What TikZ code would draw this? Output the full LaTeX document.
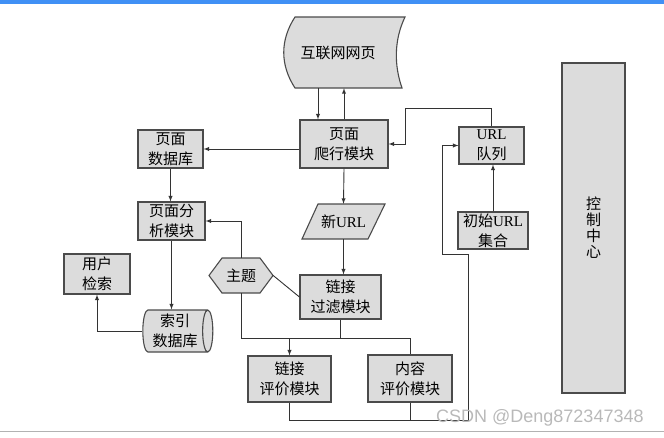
\documentclass[tikz,border=0pt]{standalone}
\usepackage{fontspec}
\setmainfont{Liberation Serif}
\newfontfamily\cjk{Noto Sans CJK SC}
\newfontfamily\wmfont{Liberation Sans}
\usepackage{tikz}
\usetikzlibrary{shapes.geometric}
\definecolor{boxgray}{RGB}{220,220,220}
\definecolor{edgegray}{RGB}{75,75,75}
\definecolor{topbar}{RGB}{64,144,245}

\begin{document}
\begin{tikzpicture}[x=1pt,y=-1pt,>=latex,
        modbox/.style={draw=edgegray, fill=boxgray, line width=1.1pt, align=center,
            inner sep=0pt, font=\cjk\fontsize{15}{20}\selectfont},
        plain/.style={align=center, inner sep=0pt, font=\cjk\fontsize{15}{20}\selectfont},
        link/.style={draw=black!80, line width=0.9pt}]
                    \useasboundingbox (0,0) rectangle (664,437);
                    \fill[topbar] (0,0) rectangle (664,4);
                    \draw[gray!60, line width=1pt] (0,431.5) -- (664,431.5);

                    % shapes drawn by hand
                    \filldraw[draw=edgegray, fill=boxgray, line width=1.1pt]
                        (295,17) -- (405,17) .. controls (394,40) and (394,65) .. (402,88)
                        -- (295,88) .. controls (280,65) and (280,40) .. (295,17) -- cycle;
                    \filldraw[draw=edgegray, fill=boxgray, line width=1.1pt]
                        (209,275.5) -- (222,258) -- (260,258) -- (273,275.5) -- (260,293) -- (222,293) -- cycle;
                    \filldraw[draw=edgegray, fill=boxgray, line width=1.1pt]
                        (318,204) -- (385,204) -- (368,239) -- (302,239) -- cycle;

                    \node[plain, minimum width=110, minimum height=71] (web) at (338,52.5) {互联网网页};
                    \node[plain, minimum width=64, minimum height=35] (topic) at (241,275.5) {主题};
                    \node[plain, minimum width=66, minimum height=35] (newurl) at (343.5,221.5) {新{\rmfamily URL}};

                    \node[modbox, minimum width=88, minimum height=48] (crawl) at (344,144) {页面\\爬行模块};
                    \node[modbox, minimum width=65, minimum height=38] (pagedb) at (170.5,149) {页面\\数据库};
                    \node[modbox, minimum width=67, minimum height=38] (analyze) at (171.5,221) {页面分\\析模块};
                    \node[modbox, minimum width=66, minimum height=40] (search) at (97,274) {用户\\检索};
                    \node[modbox, cylinder, shape aspect=0.3, minimum width=42, minimum height=70] (idx) at (175,331) {索引\\数据库};
                    \node[modbox, minimum width=81, minimum height=44] (filter) at (340.5,297) {链接\\过滤模块};
                    \node[modbox, minimum width=83, minimum height=46] (linkeval) at (289.5,379) {链接\\评价模块};
                    \node[modbox, minimum width=84, minimum height=47] (conteval) at (410,378.5) {内容\\评价模块};
                    \node[modbox, minimum width=65, minimum height=37] (queue) at (491.5,145.5) {{\rmfamily URL}\\队列};
                    \node[modbox, minimum width=70, minimum height=37] (seed) at (493,230.5) {初始{\rmfamily URL}\\集合};
                    \node[modbox, minimum width=63, minimum height=330, font=\cjk\fontsize{15}{16}\selectfont] (control) at (593.5,228) {控\\制\\中\\心};

                    \coordinate (evbus) at (0,338);
                    \coordinate (fbbus) at (0,420);
                    \coordinate (fbright) at (468,254);
                    \coordinate (fbleft) at (442,254);
                    \coordinate (qtop) at (405,108);

                    \draw[link,->] ([xshift=-26pt]crawl.north |- web.south) -- ([xshift=-26pt]crawl.north);
                    \draw[link,->] (crawl.north) -- (crawl.north |- web.south);
                    \draw[link,->] (crawl.west |- pagedb.east) -- (pagedb.east);
                    \draw[link,->] (pagedb.south) -- (pagedb.south |- analyze.north);
                    \draw[link,->] (topic.north) |- (analyze.east);
                    \draw[link,->] (analyze.south) -- (analyze.south |- idx.north);
                    \draw[link,->] (idx.west) -| (search.south);
                    \draw[link,->] (crawl.south) -- (newurl.north);
                    \draw[link,->] (newurl.south) -- (newurl.south |- filter.north);
                    \draw[link] (topic.east) -- (filter.west);
                    \draw[link] (topic.south) |- (conteval.north |- evbus) -- (conteval.north);
                    \draw[link] (filter.south) -- (filter.south |- evbus);
                    \draw[link,->] (linkeval.north |- evbus) -- (linkeval.north);
                    \draw[link,->] (linkeval.south) |- (fbright |- fbbus) -- (fbright) -- (fbleft) |- (queue.west);
                    \draw[link] (conteval.south) -- (conteval.south |- fbbus);
                    \draw[link,->] (seed.north) -- (seed.north |- queue.south);
                    \draw[link,->] (queue.north) |- (qtop) |- (crawl.east);

                    \node[font=\wmfont\fontsize{18}{18}\selectfont, text=gray!55, anchor=west, inner sep=0pt] (mark) at (436,418) {CSDN @Deng872347348};
                \end{tikzpicture}
\end{document}
